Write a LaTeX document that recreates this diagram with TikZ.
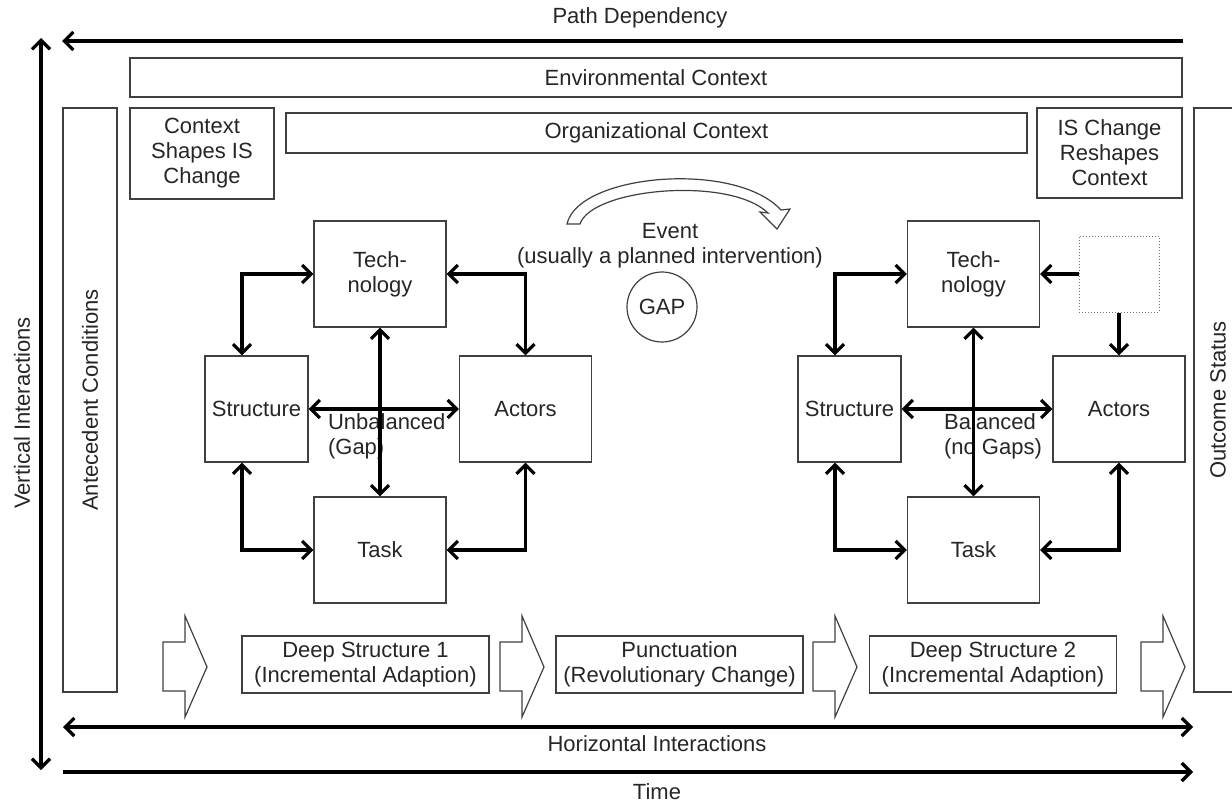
\documentclass[tikz,border=0pt]{standalone}
\usepackage{fontspec}
\setmainfont{Liberation Sans}
\usetikzlibrary{arrows.meta}

\tikzset{
  box/.style={draw=black!75, line width=0.6pt, fill=white, align=center, inner sep=1pt},
  cell/.style={box, minimum width=66pt, minimum height=53pt},
  slim/.style={box, minimum width=51.5pt, minimum height=53pt},
  stage/.style={box, minimum width=123.5pt, minimum height=28.5pt},
  link/.style={line width=1.6pt, {Straight Barb[length=4.5pt,width=9pt]}-{Straight Barb[length=4.5pt,width=9pt]}},
  tolink/.style={line width=1.6pt, -{Straight Barb[length=4.5pt,width=9pt]}},
  fat/.style={draw=black!75, line width=0.6pt, fill=white, line join=miter},
}

\begin{document}
\begin{tikzpicture}[x=0.5pt, y=-0.5pt, font=\fontsize{11}{12.5}\selectfont, text=black!85]
\clip (0,0) rectangle (1232,803);

\node [box, minimum width=526pt, minimum height=19.5pt] (envCtx) at (656,77.5) {Environmental Context};
\node [box, minimum width=72pt, minimum height=45.5pt] (ctxShp) at (202,153.5) {Context\\Shapes IS\\Change};
\node [box, minimum width=370.5pt, minimum height=20pt] (orgCtx) at (656.5,133) {Organizational Context};
\node [box, minimum width=72.5pt, minimum height=45pt] (isChg) at (1109.5,153) {IS Change\\Reshapes\\Context};
\node [box, rotate=90, minimum width=292pt, minimum height=27pt] (antCnd) at (90,400) {Antecedent Conditions};
\node [box, rotate=90, minimum width=292pt, minimum height=24pt] (outSt) at (1218,400) {Outcome Status};

\node [cell] (tecL) at (380,274) {Tech-\\nology};
\node [slim] (strL) at (256.5,409) {Structure};
\node [cell] (actL) at (525.5,409) {Actors};
\node [cell] (tskL) at (380,550) {Task};
\node [anchor=west, align=left] (unbal) at (321,436) {Unbalanced\\(Gap)};

\draw [link] (tecL.west) -| ([xshift=-7.25pt]strL.north);
\draw [link] (tecL.east) -| (actL.north);
\draw [link] ([xshift=-7.25pt]strL.south) |- (tskL.west);
\draw [link] (actL.south) |- (tskL.east);
\draw [link] (tecL.south) -- (tskL.north);
\draw [link] (strL.east) -- (actL.west);

\node [cell] (tecR) at (973.5,274) {Tech-\\nology};
\node [slim] (strR) at (849.5,409) {Structure};
\node [cell] (actR) at (1119,409) {Actors};
\node [cell] (tskR) at (973.5,550) {Task};
\node [anchor=west, align=left] (bal) at (937,436) {Balanced\\(no Gaps)};
\node [draw=black!55, densely dotted, line width=0.5pt, minimum width=40pt, minimum height=38pt] (extra) at (1119,274) {};

\draw [link] (tecR.west) -| ([xshift=-7.25pt]strR.north);
\draw [link] ([xshift=-7.25pt]strR.south) |- (tskR.west);
\draw [link] (actR.south) |- (tskR.east);
\draw [link] (tecR.south) -- (tskR.north);
\draw [link] (strR.east) -- (actR.west);
\draw [tolink] (extra.west) -- (tecR.east);
\draw [tolink] (extra.south) -- (actR.north);

\node [align=center] (event) at (670,246) {Event\\(usually a planned intervention)};
\node [draw=black!75, circle, line width=0.6pt, minimum size=35pt, inner sep=0pt] (gap) at (662,307) {GAP};
\draw [fat] (567,224) .. controls (578,174) and (735,160) .. (781,210) -- (790,209) -- (777,229) -- (760,212) -- (768,213) .. controls (730,176) and (592,188) .. (580,224) -- cycle;

\node [stage] (deep1) at (365.5,664.5) {Deep Structure 1\\(Incremental Adaption)};
\node [stage] (punct) at (679.5,664.5) {Punctuation\\(Revolutionary Change)};
\node [stage] (deep2) at (993,664.5) {Deep Structure 2\\(Incremental Adaption)};

\draw [fat] (163,642) -- (185,642) -- (185,616) -- (207,667) -- (185,717) -- (185,691) -- (163,691) -- cycle;
\draw [fat] (500,642) -- (522,642) -- (522,616) -- (544,667) -- (522,717) -- (522,691) -- (500,691) -- cycle;
\draw [fat] (813,642) -- (835,642) -- (835,616) -- (857,667) -- (835,717) -- (835,691) -- (813,691) -- cycle;
\draw [fat] (1141,642) -- (1163,642) -- (1163,616) -- (1185,667) -- (1163,717) -- (1163,691) -- (1141,691) -- cycle;

\coordinate (pdR) at (1183,41);
\coordinate (pdL) at (62,41);
\coordinate (vTop) at (41,38);
\coordinate (vBot) at (41,770);
\coordinate (hzL) at (63,727);
\coordinate (hzR) at (1193,727);
\coordinate (tmL) at (63,772);
\coordinate (tmR) at (1193,772);

\draw [tolink] (pdR) -- (pdL);
\draw [link] (vBot) -- (vTop);
\draw [link] (hzL) -- (hzR);
\draw [tolink] (tmL) -- (tmR);

\node (pathDep) at (640,18) {Path Dependency};
\node [rotate=90] (vertInt) at (22,413) {Vertical Interactions};
\node (horInt) at (657,744) {Horizontal Interactions};
\node (time) at (657,792) {Time};
\end{tikzpicture}
\end{document}
